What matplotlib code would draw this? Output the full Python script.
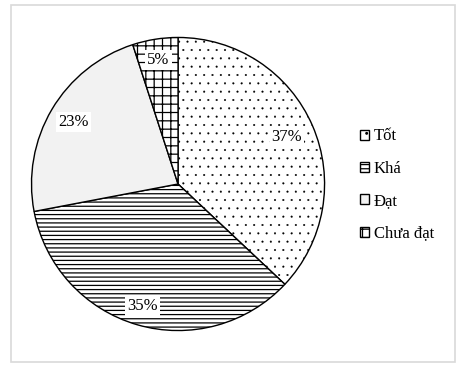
import numpy as np
import matplotlib.pyplot as plt
from matplotlib.patches import Rectangle

plt.rcParams['font.family'] = ['Liberation Serif', 'DejaVu Serif']
plt.rcParams['hatch.linewidth'] = 0.9

labels = ["Tốt", "Khá", "Đạt", "Chưa đạt"]
values = [37, 35, 23, 5]
hatches = ["..", "----", "", "++"]
fills = ["white", "white", "#f2f2f2", "white"]
hatch_lw = [0.25, 0.9, 0.9, 0.9]
label_dist = [0.81, 0.87, 0.83, 0.86]

fig = plt.figure(figsize=(4.64, 3.70), dpi=100)

# light grey frame round the whole chart
fig.patches.append(Rectangle((0.0237, 0.0216), 0.957, 0.965, transform=fig.transFigure,
                             fill=False, edgecolor="#d9d9d9", linewidth=1.2))

ax = fig.add_axes([0.0647, 0.1027, 0.638, 0.8])
wedges, texts, autotexts = ax.pie(
    values,
    colors=fills,
    startangle=90,
    counterclock=False,
    autopct=lambda p: f"{p:.0f}%",
    pctdistance=0.84,
    wedgeprops=dict(edgecolor="black", linewidth=1.0),
    textprops=dict(fontsize=12, color="black"),
)
for w, h, lw in zip(wedges, hatches, hatch_lw):
    w.set_hatch(h)
    if hasattr(w, "set_hatch_linewidth"):
        w.set_hatch_linewidth(lw)

# nudge each % label along its wedge's middle angle
for w, t, d in zip(wedges, autotexts, label_dist):
    mid = np.deg2rad((w.theta1 + w.theta2) / 2)
    t.set_position((d * np.cos(mid), d * np.sin(mid)))
    t.set_bbox(dict(facecolor="white", edgecolor="none", pad=1.5))
ax.set_xlim(-1.01, 1.01)
ax.set_ylim(-1.01, 1.01)

fig.legend(
    wedges, labels,
    loc="center left",
    bbox_to_anchor=(0.744, 0.5),
    frameon=False,
    fontsize=12,
    handlelength=0.55,
    handleheight=0.55,
    handletextpad=0.25,
    labelspacing=0.98,
)

fig.savefig("out.png", dpi=100)
